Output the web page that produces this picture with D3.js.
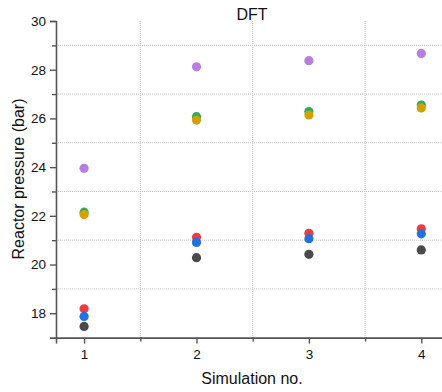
<!DOCTYPE html>
<html><head><meta charset="utf-8">
<script src="https://cdn.jsdelivr.net/npm/d3@7"></script>
<style>body{margin:0;background:#fff;font-family:Arial,"Liberation Sans",sans-serif;}</style>
</head><body><svg id="c" width="442" height="392"></svg>
<script>
const simulations = [1, 2, 3, 4];
const seriesNames = ["red", "blue", "gray", "green", "gold", "purple"];
const seriesColors = ["#f03a3f", "#1f72e0", "#4a4a4a", "#2fa862", "#d4a000", "#b77ee0"];
const redVals = [18.18, 21.12, 21.28, 21.47];
const blueVals = [17.87, 20.91, 21.06, 21.26];
const grayVals = [17.46, 20.28, 20.42, 20.60];
const greenVals = [22.15, 26.07, 26.28, 26.55];
const goldVals = [22.05, 25.93, 26.14, 26.43];
const purpleVals = [23.95, 28.12, 28.37, 28.67];
const seriesValues = [redVals, blueVals, grayVals, greenVals, goldVals, purpleVals];
const yMajorTicks = [18, 20, 22, 24, 26, 28, 30];
const yMinorTicks = [19, 21, 23, 25, 27, 29];
const xMajorTicks = [1, 2, 3, 4];
const xMinorTicks = [1.5, 2.5, 3.5];

const svg = d3.select("#c");
const x = d3.scaleLinear().domain([0.75, 4.25]).range([56, 449.4]);
const y = d3.scaleLinear().domain([17, 30]).range([337.6, 21]);
const font = 'Arial, "Liberation Sans", sans-serif';

// grid
svg.append("g").selectAll("line").data(xMinorTicks).join("line")
  .attr("x1", d => x(d)).attr("x2", d => x(d)).attr("y1", y(30)).attr("y2", y(17))
  .attr("stroke", "#c4c4c4").attr("stroke-width", 1).attr("stroke-dasharray", "1,1");
svg.append("g").selectAll("line").data(yMinorTicks).join("line")
  .attr("x1", x(0.75)).attr("x2", 442).attr("y1", d => y(d)).attr("y2", d => y(d))
  .attr("stroke", "#c4c4c4").attr("stroke-width", 1).attr("stroke-dasharray", "1,1");

// axes
const axisColor = "#555";
const yAxis = svg.append("g").attr("transform", `translate(${x(0.75)},0)`)
  .call(d3.axisLeft(y).tickValues(yMajorTicks).tickSize(6).tickPadding(4));
const yMinor = svg.append("g").attr("transform", `translate(${x(0.75)},0)`)
  .call(d3.axisLeft(y).tickValues(yMinorTicks).tickSize(4).tickFormat(""));
const xAxis = svg.append("g").attr("transform", `translate(0,${y(17)})`)
  .call(d3.axisBottom(x).tickValues(xMajorTicks).tickSize(6).tickPadding(6).tickFormat(d3.format("d")));
const xMinor = svg.append("g").attr("transform", `translate(0,${y(17)})`)
  .call(d3.axisBottom(x).tickValues(xMinorTicks).tickSize(4).tickFormat(""));
[yAxis, yMinor, xAxis, xMinor].forEach(g => {
  g.select(".domain").attr("stroke", axisColor).attr("stroke-width", 1.6);
  g.selectAll(".tick line").attr("stroke", axisColor).attr("stroke-width", 1.4);
  g.selectAll("text").attr("font-family", font).attr("font-size", 13.5).attr("fill", "#111");
});
yMinor.select(".domain").remove();
xMinor.select(".domain").remove();

// points
seriesValues.forEach((vals, i) => {
  svg.append("g").selectAll("circle").data(vals).join("circle")
    .attr("cx", (d, j) => x(simulations[j])).attr("cy", d => y(d))
    .attr("r", 4.6).attr("fill", seriesColors[i]);
});

// labels
svg.append("text").attr("x", 252).attr("y", 20).attr("text-anchor", "middle")
  .attr("font-family", font).attr("font-size", 16).attr("fill", "#111").text("DFT");
svg.append("text").attr("x", 252).attr("y", 384).attr("text-anchor", "middle")
  .attr("font-family", font).attr("font-size", 16).attr("fill", "#111").text("Simulation no.");
svg.append("text").attr("transform", "translate(24,179) rotate(-90)").attr("text-anchor", "middle")
  .attr("font-family", font).attr("font-size", 16).attr("fill", "#111").text("Reactor pressure (bar)");
</script></body></html>
